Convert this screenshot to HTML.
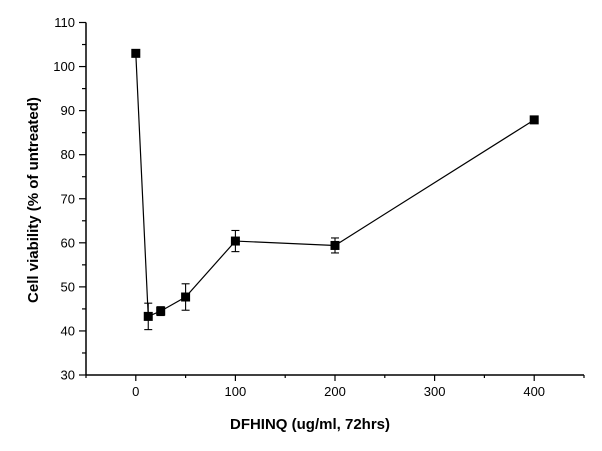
<!DOCTYPE html>
<html><head><meta charset="utf-8"><style>
body{margin:0;background:#fff;}
svg text{font-family:"Liberation Sans",Arial,sans-serif;}
</style></head><body>
<svg id="chart" width="602" height="446" viewBox="0 0 602 446" xmlns="http://www.w3.org/2000/svg">
<g id="axes"></g>
<g id="series"></g>
<text x="310" y="429" text-anchor="middle" font-size="15" font-weight="bold">DFHINQ (ug/ml, 72hrs)</text>
<text transform="translate(38,200) rotate(-90)" text-anchor="middle" font-size="15" font-weight="bold">Cell viability (% of untreated)</text>
</svg>
<script>
const doses=[0,12.5,25,50,100,200,400];
const viability=[103,43.3,44.5,47.7,60.4,59.4,87.9];
const errors=[0,3,1,3,2.4,1.7,0.8];
const xTicks=[0,100,200,300,400];
const yTicks=[30,40,50,60,70,80,90,100,110];
const NS="http://www.w3.org/2000/svg";
const xMin=-50,xMax=450,yMin=30,yMax=110;
const px0=86,px1=584,py0=375,py1=22.5;
function sx(v){return px0+(v-xMin)/(xMax-xMin)*(px1-px0);}
function sy(v){return py0-(v-yMin)/(yMax-yMin)*(py0-py1);}
function mk(tag,attrs,parent){const e=document.createElementNS(NS,tag);for(const k in attrs)e.setAttribute(k,attrs[k]);parent.appendChild(e);return e;}
const ax=document.getElementById('axes');
const xl=mk('line',{x1:px0,y1:py0,x2:px1,y2:py0,stroke:'#000','stroke-width':1.5},ax);


const yl=mk('line',{x1:px0,y1:py0,x2:px0,y2:py1,stroke:'#000','stroke-width':1.5},ax);


for(let v=xMin;v<=xMax;v+=50){
  const major=xTicks.includes(v);
  const t=mk('line',{x1:sx(v),y1:py0,x2:sx(v),y2:py0+(major?6:3),stroke:'#000','stroke-width':1.2},ax);
  
  
}
xTicks.forEach(v=>{
  const t=mk('text',{x:sx(v),y:py0+21,'text-anchor':'middle','font-size':13},ax);
  t.textContent=v;
  
  
});
for(let v=yMin;v<=yMax;v+=5){
  const major=yTicks.includes(v);
  const t=mk('line',{x1:px0,y1:sy(v),x2:px0-(major?7:4),y2:sy(v),stroke:'#000','stroke-width':1.2},ax);
  
  
}
yTicks.forEach(v=>{
  const t=mk('text',{x:px0-11,y:sy(v)+4.5,'text-anchor':'end','font-size':13},ax);
  t.textContent=v;
  
  
});
const sg=document.getElementById('series');
const pts=doses.map((d,i)=>sx(d)+','+sy(viability[i])).join(' ');
const pl=mk('polyline',{points:pts,fill:'none',stroke:'#000','stroke-width':1.2},sg);


doses.forEach((d,i)=>{
  const x=sx(d),y=sy(viability[i]);
  if(errors[i]>0){
    const g=mk('g',{stroke:'#000','stroke-width':1.1},sg);
    
    
    const yt=sy(viability[i]+errors[i]),yb=sy(viability[i]-errors[i]);
    mk('line',{x1:x,y1:yt,x2:x,y2:yb},g);
    mk('line',{x1:x-4,y1:yt,x2:x+4,y2:yt},g);
    mk('line',{x1:x-4,y1:yb,x2:x+4,y2:yb},g);
  }
  const r=mk('rect',{x:x-4.5,y:y-4.5,width:9,height:9,fill:'#000'},sg);
  
  
});
</script>
</body></html>
